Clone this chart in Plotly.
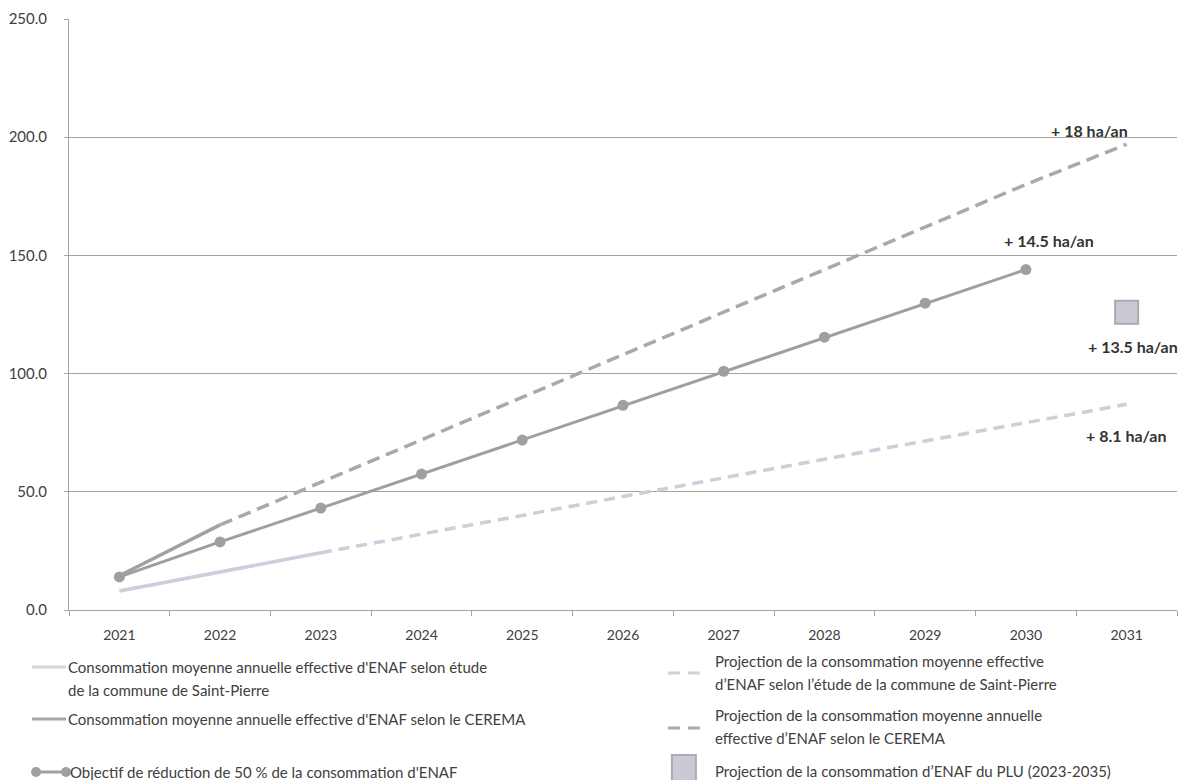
import plotly.graph_objects as go

# --- data -------------------------------------------------------------------
years = ["2021", "2022", "2023", "2024", "2025", "2026", "2027", "2028", "2029", "2030", "2031"]

# Saint-Pierre study: observed part (2021-2023) and projection (2023-2031)
sp_years = ["2021", "2022", "2023"]
sp_values = [8.0, 16.1, 24.2]
sp_proj_years = ["2023", "2024", "2025", "2026", "2027", "2028", "2029", "2030", "2031"]
sp_proj_values = [24.2, 32.0, 40.0, 48.0, 56.0, 63.8, 71.5, 79.3, 87.0]

# CEREMA: observed part (2021-2022) and projection (2022-2031)
cerema_years = ["2021", "2022"]
cerema_values = [14.5, 36.0]
cerema_proj_years = ["2022", "2023", "2024", "2025", "2026", "2027", "2028", "2029", "2030", "2031"]
cerema_proj_values = [36.0, 54.0, 72.0, 90.0, 108.0, 126.0, 144.0, 162.0, 180.0, 197.0]

# 50 % reduction target
target_years = ["2021", "2022", "2023", "2024", "2025", "2026", "2027", "2028", "2029", "2030"]
target_values = [14.0, 28.8, 43.1, 57.5, 71.9, 86.6, 101.0, 115.4, 129.8, 144.0]

# PLU projection point
plu_year = ["2031"]
plu_value = [126.0]

# rate labels: (text, x position as category index, y value)
rate_labels = [
    ("+ 18 ha/an", 9.63, 203.0),
    ("+ 14.5 ha/an", 9.23, 156.5),
    ("+ 13.5 ha/an", 10.06, 111.5),
    ("+ 8.1 ha/an", 10.0, 74.0),
]

y_ticks = [0, 50, 100, 150, 200, 250]

legend_left = [
    ["Consommation moyenne annuelle effective d'ENAF selon étude",
     "de la commune de Saint-Pierre"],
    ["Consommation moyenne annuelle effective d'ENAF selon le CEREMA"],
    ["Objectif de réduction de 50 % de la consommation d'ENAF"],
]
legend_right = [
    ["Projection de la consommation moyenne effective",
     "d’ENAF selon l’étude de la commune de Saint-Pierre"],
    ["Projection de la consommation moyenne annuelle",
     "effective d’ENAF selon le CEREMA"],
    ["Projection de la consommation d’ENAF du PLU (2023-2035)"],
]

# --- styles -----------------------------------------------------------------
FONT = "Lato"
C_SP = "#cdcddc"
C_CEREMA = "#a2a2a2"
C_CEREMA_DASH = "#a9a9ab"
C_TARGET = "#9e9fa0"
C_PLU_FILL = "#c9cad4"
C_PLU_LINE = "#a9aab2"
C_GRID = "#a3a3a3"
C_TEXT = "#404040"

W, H = 1186, 780
ML, MR, MT, MB = 67, 9, 19, 170

fig = go.Figure()

fig.add_trace(go.Scatter(x=sp_years, y=sp_values, mode="lines",
                         line=dict(color=C_SP, width=3.5), showlegend=False))
fig.add_trace(go.Scatter(x=sp_proj_years, y=sp_proj_values, mode="lines",
                         line=dict(color=C_SP, width=3.5, dash="11px,7px"), showlegend=False))
fig.add_trace(go.Scatter(x=cerema_years, y=cerema_values, mode="lines",
                         line=dict(color=C_CEREMA, width=3.5), showlegend=False))
fig.add_trace(go.Scatter(x=cerema_proj_years, y=cerema_proj_values, mode="lines",
                         line=dict(color=C_CEREMA_DASH, width=3.5, dash="13px,7px"), showlegend=False))
fig.add_trace(go.Scatter(x=target_years, y=target_values, mode="lines+markers",
                         line=dict(color=C_TARGET, width=3),
                         marker=dict(color=C_TARGET, size=11), showlegend=False))
fig.add_trace(go.Scatter(x=plu_year, y=plu_value, mode="markers",
                         marker=dict(symbol="square", size=23, color=C_PLU_FILL,
                                     line=dict(color=C_PLU_LINE, width=2)),
                         showlegend=False))

for text, xi, yv in rate_labels:
    fig.add_annotation(x=xi, y=yv, xref="x", yref="y", text=f"<b>{text}</b>",
                       showarrow=False, font=dict(family=FONT, size=16, color="#333333"))

# --- hand-built legend below the plot ----------------------------------------
pw, ph = W - ML - MR, H - MT - MB


def px_x(px):
    return (px - ML) / pw


def px_y(py):
    return (H - MB - py) / ph


def legend_line(x0, x1, y, color, dash=None, width=3):
    fig.add_shape(type="line", xref="paper", yref="paper",
                  x0=px_x(x0), x1=px_x(x1), y0=px_y(y), y1=px_y(y),
                  line=dict(color=color, width=width, dash=dash))


def legend_text(x, ys, lines):
    for y, line in zip(ys, lines):
        fig.add_annotation(xref="paper", yref="paper", x=px_x(x), y=px_y(y), text=line,
                           xanchor="left", yanchor="middle", align="left", showarrow=False,
                           font=dict(family=FONT, size=15, color=C_TEXT))


# left column
legend_line(30, 64, 667, "#d4d4de")
legend_text(64, [667, 690], legend_left[0])
legend_line(30, 64, 719, "#a6a6a6")
legend_text(64, [719], legend_left[1])
legend_line(34, 64, 772, C_TARGET)
for cx in (34, 64):
    fig.add_shape(type="circle", xref="paper", yref="paper",
                  x0=px_x(cx - 5), x1=px_x(cx + 5), y0=px_y(772 - 5), y1=px_y(772 + 5),
                  fillcolor=C_TARGET, line=dict(width=0))
legend_text(66, [772], legend_left[2])

# right column
RX = 712
legend_line(667, 704, 673, "#d2d2dc", dash="12px,8px")
legend_text(RX, [661, 684], legend_right[0])
legend_line(667, 704, 728, "#a9a9ab", dash="12px,8px")
legend_text(RX, [715, 738], legend_right[1])
fig.add_shape(type="rect", xref="paper", yref="paper",
              x0=px_x(671), x1=px_x(695), y0=px_y(785), y1=px_y(755),
              fillcolor=C_PLU_FILL, line=dict(color=C_PLU_LINE, width=2))
legend_text(RX, [771], legend_right[2])

fig.update_layout(
    width=W, height=H,
    margin=dict(l=ML, r=MR, t=MT, b=MB, pad=0),
    paper_bgcolor="white", plot_bgcolor="white",
    font=dict(family=FONT, size=14, color="#595959"),
    showlegend=False,
)
fig.update_xaxes(
    type="category", categoryorder="array", categoryarray=years,
    range=[-0.5, len(years) - 0.5],
    tickson="boundaries", ticks="outside", ticklen=5, tickcolor=C_GRID,
    ticklabelstandoff=12,
    showgrid=False, showline=True, linecolor=C_GRID, linewidth=1,
    tickfont=dict(family=FONT, size=14, color="#404040"),
    fixedrange=True,
)
fig.update_yaxes(
    range=[0, 250], tickvals=y_ticks, tickformat=".1f",
    showgrid=True, gridcolor=C_GRID, gridwidth=1,
    showline=True, linecolor=C_GRID, linewidth=1,
    ticks="outside", ticklen=4, tickcolor=C_GRID,
    ticklabelstandoff=14,
    tickfont=dict(family=FONT, size=15, color="#404040"),
    zeroline=False, fixedrange=True,
)

fig.write_html("out.html")
